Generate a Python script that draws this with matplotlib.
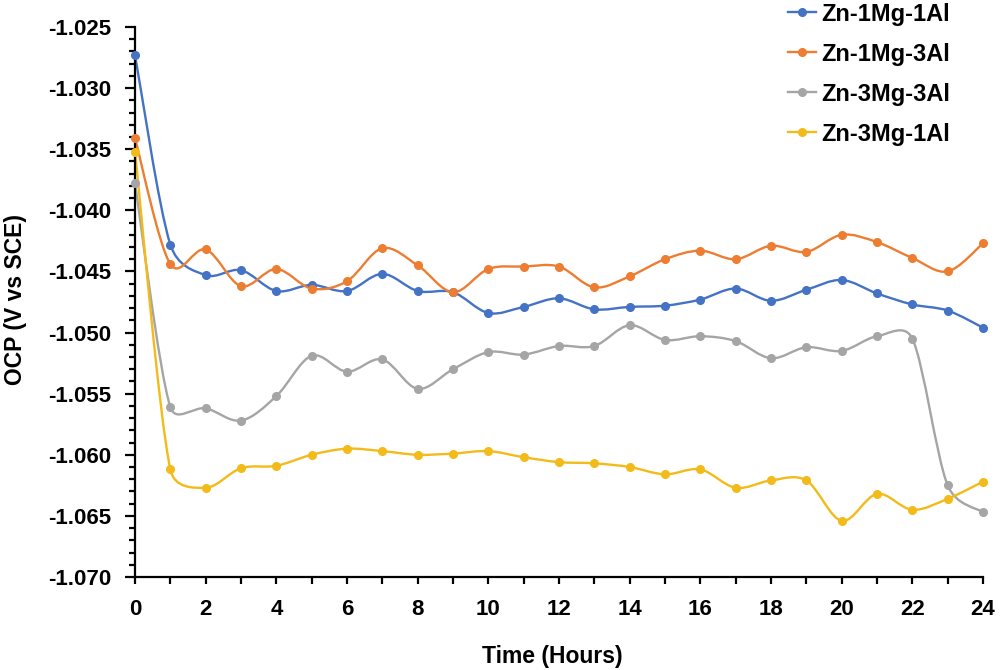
import numpy as np
import matplotlib.pyplot as plt
from matplotlib.path import Path
from matplotlib.patches import PathPatch
from matplotlib.ticker import MultipleLocator, FormatStrFormatter

plt.rcParams['font.family'] = ['Liberation Sans', 'DejaVu Sans']
plt.rcParams['font.weight'] = 'bold'

# Dados (tempo em horas, OCP em V vs SCE)
hours = list(range(25))

zn_1mg_1al = [-1.0273, -1.0428, -1.0453, -1.0449, -1.0466, -1.0461, -1.0466,
              -1.0452, -1.0466, -1.0467, -1.0484, -1.0479, -1.0472, -1.0481,
              -1.0479, -1.0478, -1.0473, -1.0464, -1.0474, -1.0465, -1.0457,
              -1.0468, -1.0477, -1.0482, -1.0496]

zn_1mg_3al = [-1.0341, -1.0444, -1.0432, -1.0462, -1.0448, -1.0464, -1.0458,
              -1.0431, -1.0445, -1.0467, -1.0448, -1.0446, -1.0446, -1.0463,
              -1.0454, -1.0440, -1.0433, -1.0440, -1.0429, -1.0434, -1.0420,
              -1.0426, -1.0439, -1.0450, -1.0427]

zn_3mg_3al = [-1.0378, -1.0561, -1.0562, -1.0572, -1.0552, -1.0519, -1.0532,
              -1.0522, -1.0546, -1.0530, -1.0516, -1.0518, -1.0511, -1.0511,
              -1.0494, -1.0506, -1.0503, -1.0507, -1.0521, -1.0512, -1.0515,
              -1.0503, -1.0505, -1.0625, -1.0647]

zn_3mg_1al = [-1.0352, -1.0612, -1.0627, -1.0611, -1.0609, -1.0600, -1.0595,
              -1.0597, -1.0600, -1.0599, -1.0597, -1.0602, -1.0606, -1.0607,
              -1.0610, -1.0616, -1.0612, -1.0627, -1.0621, -1.0621, -1.0654,
              -1.0632, -1.0645, -1.0636, -1.0622]

series = [
    ("Zn-1Mg-1Al", zn_1mg_1al, "#4472C4"),
    ("Zn-1Mg-3Al", zn_1mg_3al, "#ED7D31"),
    ("Zn-3Mg-3Al", zn_3mg_3al, "#A5A5A5"),
    ("Zn-3Mg-1Al", zn_3mg_1al, "#F2BB1A"),
]


# Linha suavizada no estilo do Excel (Bezier, controle limitado em pixels)
def smooth_path(ax, x, y):
    p = ax.transData.transform(np.column_stack([x, y]))
    n = len(p)
    verts = [p[0]]
    codes = [Path.MOVETO]
    for i in range(n - 1):
        p0 = p[i - 1] if i > 0 else p[i]
        p1 = p[i]
        p2 = p[i + 1]
        p3 = p[i + 2] if i + 2 < n else p[i + 1]
        d02 = np.hypot(*(p2 - p0))
        d12 = np.hypot(*(p2 - p1))
        d13 = np.hypot(*(p3 - p1))
        f1 = f2 = 1.0 / 6.0
        if d02 / 6.0 >= d12 / 2.0 and d02 > 0:
            f1 = d12 / d02 / 2.0
        if d13 / 6.0 >= d12 / 2.0 and d13 > 0:
            f2 = d12 / d13 / 2.0
        c1 = p1 + (p2 - p0) * f1
        c2 = p2 - (p3 - p1) * f2
        verts += [c1, c2, p2]
        codes += [Path.CURVE4] * 3
    verts = ax.transData.inverted().transform(np.array(verts))
    return Path(verts, codes)


fig = plt.figure(figsize=(10, 6.7), dpi=100)
ax = fig.add_axes([0.135, 0.1388, 0.848, 0.8209])
ax.set_xlim(0, 24)
ax.set_ylim(-1.070, -1.025)

for name, vals, col in series:
    patch = PathPatch(smooth_path(ax, hours, vals), facecolor='none',
                      edgecolor=col, lw=1.7, clip_on=False)
    ax.add_patch(patch)
    ax.plot(hours, vals, linestyle='none', marker='o', ms=5.5, color=col,
            clip_on=False, zorder=3)
    # entrada da legenda
    ax.plot([], [], color=col, lw=1.7, marker='o', ms=5.5, label=name)

ax.xaxis.set_major_locator(MultipleLocator(2))
ax.xaxis.set_minor_locator(MultipleLocator(1))
ax.yaxis.set_major_locator(MultipleLocator(0.005))
ax.yaxis.set_minor_locator(MultipleLocator(0.001))
ax.yaxis.set_major_formatter(FormatStrFormatter('%.3f'))

for s in ['top', 'right']:
    ax.spines[s].set_visible(False)
for s in ['left', 'bottom']:
    ax.spines[s].set_linewidth(1.6)

ax.tick_params(axis='y', which='major', direction='out', length=7, width=1.6,
               labelsize=16, pad=10)
ax.tick_params(axis='y', which='minor', direction='out', length=4, width=1.6)
ax.tick_params(axis='x', which='both', direction='out', length=5, width=1.6,
               labelsize=16, pad=11)

ax.set_xlabel("Time (Hours)", fontsize=16.5, fontweight='bold')
ax.set_ylabel("OCP (V vs SCE)", fontsize=16.5, fontweight='bold')
ax.xaxis.set_label_coords(0.492, -0.1236)
ax.yaxis.set_label_coords(-0.1275, 0.505)

leg = fig.legend(loc='upper left', bbox_to_anchor=(0.7786, 1.01), frameon=False,
                 fontsize=17, labelspacing=0.72, handlelength=1.2,
                 handletextpad=0.2, borderaxespad=0)

fig.savefig("out.png", dpi=100)
